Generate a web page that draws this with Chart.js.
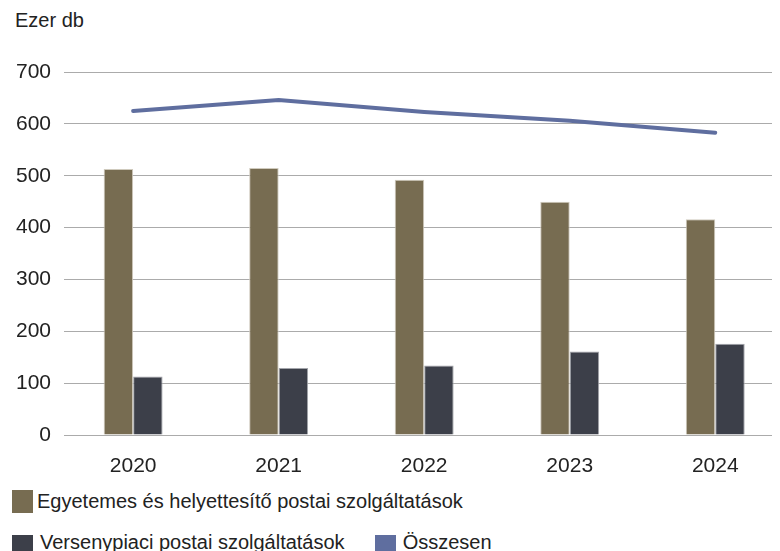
<!DOCTYPE html>
<html>
<head>
<meta charset="utf-8">
<script src="https://cdn.jsdelivr.net/npm/chart.js@4"></script>
<style>
  html, body { margin: 0; padding: 0; background: #fff; }
  body { width: 780px; height: 551px; position: relative; overflow: hidden;
         font-family: "Liberation Sans", Arial, sans-serif; color: #222; }
  #unit { position: absolute; left: 15px; top: 8px; font-size: 20px; line-height: 24px; }
  #wrap { position: absolute; left: 0; top: 0; width: 780px; height: 475px; }
  #legend { position: absolute; left: 12px; top: 490px; width: 600px; font-size: 20px; }
  .row { display: flex; align-items: center; height: 23px; }
  .row + .row { margin-top: 22px; }
  .row + .row .box { margin-right: 7px; }
  .row + .row .txt { position: relative; top: -4px; }
  .item { display: flex; align-items: center; margin-right: 30px; }
  .box { width: 21px; height: 23px; margin-right: 4px; flex: none; }
</style>
</head>
<body>
<div id="unit">Ezer db</div>
<div id="wrap"><canvas id="chart" width="780" height="475"></canvas></div>
<div id="legend"></div>
<script>
// years on the x axis
var years = [2020, 2021, 2022, 2023, 2024];

// thousand items per year
var egyetemes = [513, 515, 492, 450, 416];
var versenypiaci = [113, 129, 134, 161, 176];
var osszesen = [625, 646, 623, 606, 583];

var yTicks = [0, 100, 200, 300, 400, 500, 600, 700];

function pts(vals) {
  return years.map(function(y, i) { return {x: y, y: vals[i]}; });
}

var font = {family: "'Liberation Sans', Arial, sans-serif", size: 21};

var chart = new Chart("chart", {
  type: "bar",
  data: {
    datasets: [
      {
        type: "line",
        label: "Összesen",
        data: pts(osszesen),
        borderColor: "#5f6e9f",
        backgroundColor: "#5f6e9f",
        borderWidth: 4,
        borderCapStyle: "round",
        pointRadius: 0,
        order: 0
      },
      {
        label: "Egyetemes és helyettesítő postai szolgáltatások",
        data: pts(egyetemes),
        backgroundColor: "#776c51",
        borderColor: "#cfcabd",
        borderWidth: 1,
        order: 1
      },
      {
        label: "Versenypiaci postai szolgáltatások",
        data: pts(versenypiaci),
        backgroundColor: "#3c3f49",
        borderColor: "#a3a5ab",
        borderWidth: 1,
        order: 1
      }
    ]
  },
  options: {
    responsive: false,
    animation: false,
    layout: {padding: {top: 72, right: 8, left: 0, bottom: 0}},
    datasets: {bar: {barPercentage: 1, categoryPercentage: 0.405}},
    plugins: {legend: {display: false}, tooltip: {enabled: false}},
    scales: {
      x: {
        type: "linear",
        offset: false,
        min: 2019.525,
        max: 2024.39,
        grid: {display: false},
        border: {display: false},
        afterBuildTicks: function(scale) {
          scale.ticks = years.map(function(v) { return {value: v}; });
        },
        afterFit: function(scale) { scale.height = 40; },
        ticks: {
          color: "#222",
          font: font,
          padding: 11,
          maxRotation: 0,
          callback: function(v) { return String(v); }
        }
      },
      y: {
        min: 0,
        max: 700,
        afterBuildTicks: function(scale) {
          scale.ticks = yTicks.map(function(v) { return {value: v}; });
        },
        afterFit: function(scale) { scale.width = 64; },
        grid: {color: "#ababab", lineWidth: 1, drawTicks: false},
        border: {display: false},
        ticks: {color: "#222", font: font, padding: 13}
      }
    }
  }
});

// html legend, bars first then the line
var order = [1, 2, 0];
var legend = document.getElementById("legend");
var rows = [[order[0]], [order[1], order[2]]];
rows.forEach(function(r) {
  var row = document.createElement("div");
  row.className = "row";
  r.forEach(function(i) {
    var ds = chart.data.datasets[i];
    var item = document.createElement("div");
    item.className = "item";
    var box = document.createElement("span");
    box.className = "box";
    box.style.background = ds.backgroundColor;
    var txt = document.createElement("span");
    txt.className = "txt";
    txt.textContent = ds.label;
    item.appendChild(box);
    item.appendChild(txt);
    row.appendChild(item);
  });
  legend.appendChild(row);
});
</script>
</body>
</html>
